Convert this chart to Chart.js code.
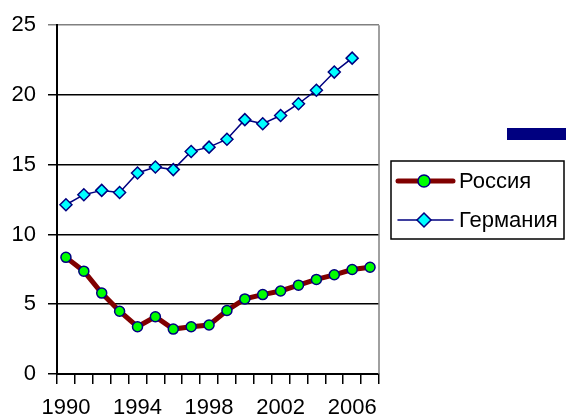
<!DOCTYPE html>
<html>
<head>
<meta charset="utf-8">
<script src="https://cdn.jsdelivr.net/npm/chart.js@4/dist/chart.umd.min.js"></script>
<style>
  html, body { margin: 0; padding: 0; background: #fff; }
  #wrap { width: 566px; height: 420px; position: relative; }
</style>
</head>
<body>
<div id="wrap"><canvas id="chart" width="566" height="420"></canvas></div>
<script>
// Годы и значения рядов
const years = ['1990', '1991', '1992', '1993', '1994', '1995', '1996', '1997', '1998',
               '1999', '2000', '2001', '2002', '2003', '2004', '2005', '2006', '2007'];
const russia = [8.36, 7.37, 5.80, 4.50, 3.39, 4.10, 3.22, 3.39, 3.51,
                4.55, 5.38, 5.69, 5.95, 6.37, 6.78, 7.11, 7.49, 7.65];
const germany = [12.13, 12.85, 13.16, 13.01, 14.41, 14.84, 14.65, 15.95, 16.26,
                 16.83, 18.23, 17.94, 18.53, 19.37, 20.34, 21.64, 22.64, null];
const yTicks = [0, 5, 10, 15, 20, 25];

const FONT = "'Liberation Sans', Arial, sans-serif";
const FONT_SIZE = 22;

// Рамка справа, легенда и синяя полоска
const extrasPlugin = {
    id: 'extras',
    afterDraw(chart) {
        const ctx = chart.ctx;
        const area = chart.chartArea;
        ctx.save();

        // правая граница области построения
        ctx.strokeStyle = '#808080';
        ctx.lineWidth = 1.5;
        ctx.beginPath();
        ctx.moveTo(area.right, area.top);
        ctx.lineTo(area.right, area.bottom);
        ctx.stroke();

        // синяя полоска
        ctx.fillStyle = '#000080';
        ctx.fillRect(507, 128, 59, 12);

        // легенда
        ctx.fillStyle = '#fff';
        ctx.fillRect(391, 161, 173, 78);
        ctx.strokeStyle = '#000';
        ctx.lineWidth = 1.5;
        ctx.strokeRect(391, 161, 173, 78);

        const rows = [181, 220];
        chart.data.datasets.forEach((ds, i) => {
            const y = rows[i];
            ctx.strokeStyle = ds.borderColor;
            ctx.lineWidth = ds.borderWidth;
            ctx.lineCap = 'round';
            ctx.beginPath();
            ctx.moveTo(398, y);
            ctx.lineTo(453, y);
            ctx.stroke();

            // маркер в легенде чуть крупнее, чем на графике
            const r = ds.pointRadius + 1;
            ctx.fillStyle = ds.pointBackgroundColor;
            ctx.strokeStyle = ds.pointBorderColor;
            ctx.lineWidth = ds.pointBorderWidth;
            ctx.beginPath();
            if (ds.pointStyle === 'circle') {
                ctx.arc(424, y, r, 0, Math.PI * 2);
            } else {
                ctx.moveTo(424, y - r);
                ctx.lineTo(424 + r, y);
                ctx.lineTo(424, y + r);
                ctx.lineTo(424 - r, y);
                ctx.closePath();
            }
            ctx.fill();
            ctx.stroke();

            ctx.fillStyle = '#000';
            ctx.font = FONT_SIZE + 'px ' + FONT;
            ctx.textBaseline = 'middle';
            ctx.textAlign = 'left';
            ctx.fillText(ds.label, 459, y + 1);
        });
        ctx.restore();
    }
};

const ctx = document.getElementById('chart').getContext('2d');
new Chart(ctx, {
    type: 'line',
    data: {
        labels: years,
        datasets: [
            {
                label: 'Россия',
                data: russia,
                borderColor: '#800000',
                borderWidth: 5,
                pointStyle: 'circle',
                pointRadius: 5,
                pointBackgroundColor: '#00ff00',
                pointBorderColor: '#000080',
                pointBorderWidth: 1.5,
                tension: 0
            },
            {
                label: 'Германия',
                data: germany,
                borderColor: '#000080',
                borderWidth: 1.5,
                pointStyle: 'rectRot',
                pointRadius: 6,
                pointBackgroundColor: '#00ffff',
                pointBorderColor: '#000080',
                pointBorderWidth: 1.5,
                tension: 0
            }
        ]
    },
    options: {
        responsive: false,
        animation: false,
        events: [],
        layout: { padding: { top: 23, right: 187, left: 0, bottom: 0 } },
        plugins: {
            legend: { display: false },
            tooltip: { enabled: false }
        },
        scales: {
            x: {
                offset: true,
                afterFit(scale) { scale.height = 46; },
                border: { color: '#000', width: 2 },
                grid: {
                    offset: true,
                    drawOnChartArea: false,
                    color: '#000',
                    lineWidth: 1.5,
                    tickLength: 10
                },
                ticks: {
                    autoSkip: false,
                    maxRotation: 0,
                    padding: 11,
                    color: '#000',
                    font: { family: FONT, size: FONT_SIZE },
                    callback: function(value, index) {
                        return index % 4 === 0 ? years[index] : '';
                    }
                }
            },
            y: {
                min: 0,
                max: 25,
                afterFit(scale) { scale.width = 57; },
                afterBuildTicks(scale) {
                    scale.ticks = yTicks.map(v => ({ value: v }));
                },
                border: { color: '#000', width: 2 },
                grid: {
                    color: ctx => ctx.tick && ctx.tick.value === 25 ? '#808080' : '#000',
                    lineWidth: 1.5,
                    tickLength: 9
                },
                ticks: {
                    padding: 12,
                    color: '#000',
                    font: { family: FONT, size: FONT_SIZE }
                }
            }
        }
    },
    plugins: [extrasPlugin]
});
</script>
</body>
</html>
